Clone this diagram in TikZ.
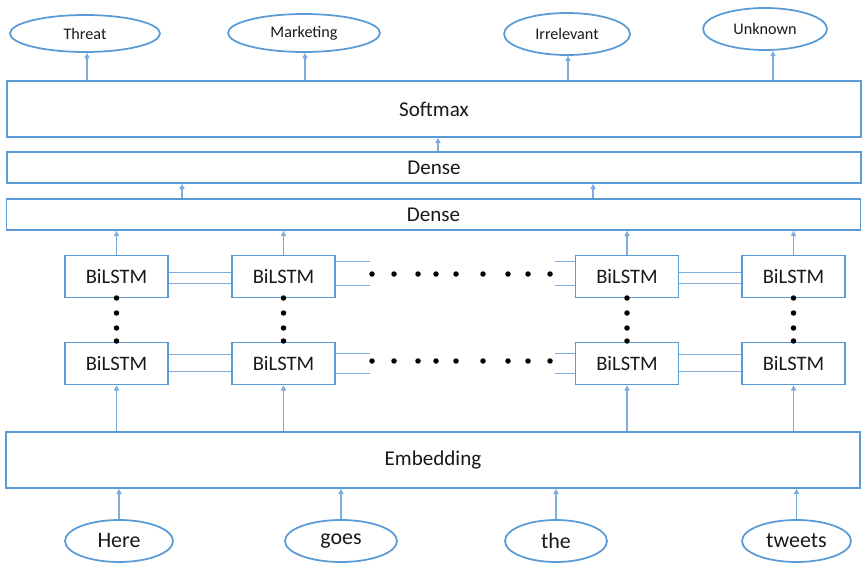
\documentclass[tikz,border=0pt]{standalone}
\usepackage{fontspec}
\setmainfont{Carlito}
\usetikzlibrary{shapes.geometric,arrows.meta}
\definecolor{boxblue}{RGB}{91,155,213}
\definecolor{lineblue}{RGB}{125,172,222}
\begin{document}
\begin{tikzpicture}[x=0.02cm, y=0.02cm, >={Triangle[length=3pt,width=3pt]},
    layer/.style={draw=boxblue, line width=1pt, minimum width=17.08cm, inner sep=0pt, text=black!90, font=\fontsize{12}{14}\selectfont},
    cell/.style={draw=boxblue, line width=1pt, minimum width=2.06cm, minimum height=0.84cm, inner sep=0pt, text=black!90, font=\fontsize{11.7}{14}\selectfont},
    cls/.style={ellipse, draw=boxblue, line width=1pt, inner sep=0pt, text=black!90, font=\fontsize{9.2}{11}\selectfont},
    word/.style={ellipse, draw=boxblue, line width=1pt, inner sep=0pt, minimum height=0.84cm, text=black!90, font=\fontsize{12.5}{15}\selectfont},
    link/.style={draw=lineblue, line width=0.5pt},
    arr/.style={->, draw=lineblue, line width=0.6pt}]
  \useasboundingbox (0,0) rectangle (862,562);

  % output classes
  \node[cls, minimum width=3cm, minimum height=0.74cm] (c1) at (85,528.5) {Threat};
  \node[cls, minimum width=3.04cm, minimum height=0.76cm] (c2) at (304,529) {Marketing};
  \node[cls, minimum width=2.52cm, minimum height=0.84cm] (c3) at (567,528) {Irrelevant};
  \node[cls, minimum width=2.48cm, minimum height=0.84cm] (c4) at (765,533) {Unknown};

  % full width layers
  \node[layer, minimum height=1.12cm] (sm) at (434,453) {Softmax};
  \node[layer, minimum height=0.62cm] (d1) at (434,394.5) {Dense};
  \node[layer, minimum height=0.62cm] (d2) at (433.5,347.5) {Dense};
  \node[layer, minimum height=1.12cm, text depth=0.5ex] (emb) at (433,102) {Embedding};

  % input words
  \node[word, minimum width=2.16cm] (w1) at (119,21) {Here};
  \node[word, minimum width=2.24cm] (w2) at (341,21) {goes};
  \node[word, minimum width=2.04cm] (w3) at (556,21) {the};
  \node[word, minimum width=2.18cm] (w4) at (796.5,21) {tweets};

  % two stacked rows of BiLSTM cells
  \foreach \i/\x in {1/116.5, 2/283.5, 3/627, 4/793.5} {
    \node[cell] (u\i) at (\x,285.5) {BiLSTM};
    \node[cell] (l\i) at (\x,198.5) {BiLSTM};
    \draw[arr] (u\i.north) -- (u\i.north |- d2.south);
    \draw[arr] (emb.north -| l\i) -- (l\i.south);
    \foreach \y in {264,249,234,221} \fill (\x,\y) circle (0.055cm);
  }

  % recurrent links, stubs towards the skipped cells
  \foreach \r/\a/\b/\s/\t in {u/0.09/-0.13/0.31/-0.17, l/0.19/-0.15/0.21/-0.2} {
    \draw[link] ([yshift=\a cm]\r1.east) -- ([yshift=\a cm]\r2.west)
                ([yshift=\b cm]\r1.east) -- ([yshift=\b cm]\r2.west)
                ([yshift=\a cm]\r3.east) -- ([yshift=\a cm]\r4.west)
                ([yshift=\b cm]\r3.east) -- ([yshift=\b cm]\r4.west);
    \draw[link] ([yshift=\s cm]\r2.east) -- +(34,0)
                ([yshift=\t cm]\r2.east) -- +(34,0)
                ([yshift=\s cm]\r3.west) -- +(-20,0)
                ([yshift=\t cm]\r3.west) -- +(-20,0);
  }
  \foreach \x in {372,394,418,436,456,483,508,528,550} {
    \fill (\x,288) circle (0.055cm);
    \fill (\x,201) circle (0.055cm);
  }

  % arrows between layers
  \coordinate (p1) at (438,0);
  \coordinate (p2) at (182,0);
  \coordinate (p3) at (593,0);
  \foreach \c/\dx in {c1/0.04,c2/0.02,c3/0.02,c4/0.16}
    \draw[arr] ([xshift=\dx cm]\c.south |- sm.north) -- ([xshift=\dx cm]\c.south);
  \draw[arr] (d1.north -| p1) -- (sm.south -| p1);
  \draw[arr] (d2.north -| p2) -- (d1.south -| p2);
  \draw[arr] (d2.north -| p3) -- (d1.south -| p3);
  \foreach \w in {w1,w2,w3,w4} \draw[arr] (\w.north) -- (\w.north |- emb.south);
\end{tikzpicture}
\end{document}
